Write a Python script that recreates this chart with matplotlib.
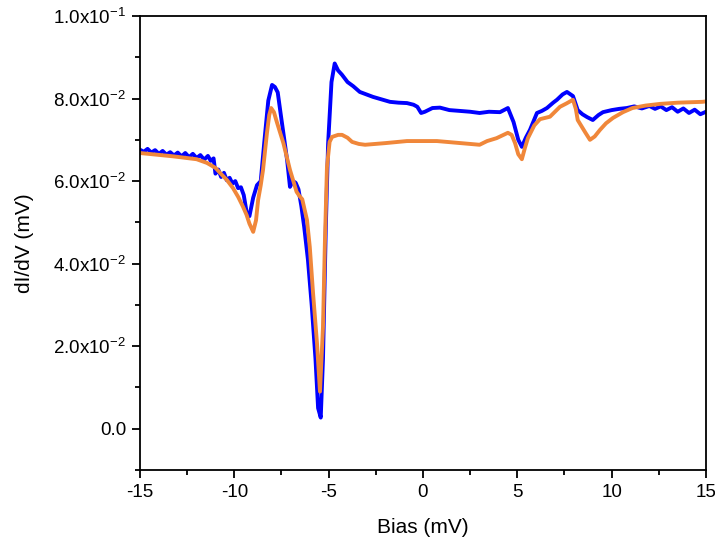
import matplotlib
matplotlib.use("Agg")
import matplotlib.pyplot as plt
from matplotlib.ticker import FixedLocator, MultipleLocator

plt.rcParams['font.family'] = ['Liberation Sans', 'DejaVu Sans']
plt.rcParams['mathtext.fontset'] = 'custom'
plt.rcParams['mathtext.rm'] = 'Liberation Sans'
plt.rcParams['mathtext.it'] = 'Liberation Sans'

# Measured (blue) dI/dV
bias_meas = [-15.0, -14.8, -14.6, -14.4, -14.2, -14.0, -13.8, -13.6, -13.4, -13.2,
             -13.0, -12.8, -12.6, -12.4, -12.2, -12.0, -11.8, -11.6, -11.4, -11.25,
             -11.1, -11.0, -10.85, -10.7, -10.55, -10.4, -10.25, -10.1, -9.95, -9.8,
             -9.65, -9.5, -9.35, -9.2, -9.0, -8.8, -8.6, -8.4, -8.2, -8.0,
             -7.85, -7.7, -7.55, -7.35, -7.2, -7.05, -6.9, -6.75, -6.6, -6.45,
             -6.3, -6.1, -5.9, -5.7, -5.56, -5.42, -5.3, -5.15, -5.03, -4.85,
             -4.68, -4.5, -4.3, -4.0, -3.7, -3.35, -3.0, -2.65, -2.2, -1.75,
             -1.3, -0.85, -0.5, -0.3, -0.1, 0.1, 0.5, 0.9, 1.4, 1.96,
             2.5, 3.0, 3.5, 4.08, 4.5, 4.8, 5.05, 5.24, 5.45, 5.67,
             6.04, 6.3, 6.57, 6.9, 7.1, 7.4, 7.63, 7.95, 8.2, 8.45,
             8.7, 9.0, 9.3, 9.54, 10.0, 10.4, 10.8, 11.2, 11.6, 12.0,
             12.3, 12.6, 12.9, 13.2, 13.5, 13.8, 14.1, 14.4, 14.7, 15.0]
didv_meas = [0.0676, 0.0671, 0.0678, 0.0669, 0.0675, 0.0666, 0.0673, 0.0664, 0.0670, 0.0662,
             0.0669, 0.0660, 0.0668, 0.0658, 0.0666, 0.0656, 0.0663, 0.0652, 0.0661, 0.0649,
             0.0655, 0.0618, 0.0628, 0.0610, 0.0620, 0.0602, 0.0608, 0.0594, 0.0600, 0.0583,
             0.0585, 0.0566, 0.0525, 0.0515, 0.0560, 0.0590, 0.0600, 0.0700, 0.0795, 0.0833,
             0.0828, 0.0815, 0.0765, 0.0700, 0.0650, 0.0586, 0.0600, 0.0596, 0.0580, 0.0540,
             0.0490, 0.0410, 0.0300, 0.0170, 0.0050, 0.0027, 0.0170, 0.0490, 0.0690, 0.0840,
             0.0885, 0.0868, 0.0858, 0.0840, 0.0830, 0.0816, 0.0810, 0.0804, 0.0798, 0.0792,
             0.0790, 0.0789, 0.0785, 0.0780, 0.0765, 0.0768, 0.0777, 0.0778, 0.0772, 0.0770,
             0.0768, 0.0765, 0.0768, 0.0767, 0.0777, 0.0743, 0.0700, 0.0683, 0.0705, 0.0724,
             0.0765, 0.0770, 0.0777, 0.0790, 0.0797, 0.0810, 0.0816, 0.0806, 0.0772, 0.0762,
             0.0755, 0.0748, 0.0760, 0.0767, 0.0772, 0.0775, 0.0777, 0.0781, 0.0776, 0.0782,
             0.0775, 0.0781, 0.0772, 0.0779, 0.0768, 0.0776, 0.0765, 0.0773, 0.0762, 0.0768]

# Fitted (orange) dI/dV
bias_fit = [-15.0, -13.25, -12.0, -11.45, -11.0, -10.76, -10.4, -10.07, -9.8, -9.54,
            -9.35, -9.2, -9.0, -8.85, -8.74, -8.6, -8.48, -8.27, -8.15, -8.05,
            -7.9, -7.74, -7.4, -7.05, -6.7, -6.55, -6.4, -6.15, -6.0, -5.83,
            -5.62, -5.46, -5.3, -5.2, -5.09, -4.95, -4.82, -4.5, -4.29, -4.0,
            -3.76, -3.4, -3.07, -2.0, -0.85, 0.74, 2.0, 3.0, 3.4, 3.9,
            4.5, 4.7, 4.88, 5.05, 5.24, 5.4, 5.56, 5.9, 6.2, 6.73,
            7.26, 7.6, 7.95, 8.1, 8.2, 8.4, 8.6, 8.85, 9.1, 9.38,
            9.7, 10.07, 10.6, 11.1, 11.8, 12.56, 13.5, 14.8, 15.0]
didv_fit = [0.0668, 0.0660, 0.0653, 0.0644, 0.0632, 0.0620, 0.0603, 0.0583, 0.0562, 0.0538,
            0.0518, 0.0497, 0.0477, 0.0505, 0.0554, 0.0590, 0.0627, 0.0717, 0.0760, 0.0777,
            0.0767, 0.0742, 0.0692, 0.0627, 0.0574, 0.0564, 0.0556, 0.0506, 0.0440, 0.0330,
            0.0208, 0.0090, 0.0247, 0.0450, 0.0634, 0.0695, 0.0707, 0.0712, 0.0712, 0.0705,
            0.0695, 0.0690, 0.0688, 0.0692, 0.0697, 0.0697, 0.0692, 0.0688, 0.0697, 0.0704,
            0.0717, 0.0712, 0.0692, 0.0665, 0.0653, 0.0680, 0.0704, 0.0735, 0.0750, 0.0756,
            0.0780, 0.0788, 0.0797, 0.0775, 0.0748, 0.0733, 0.0718, 0.0700, 0.0708, 0.0724,
            0.0740, 0.0753, 0.0767, 0.0777, 0.0783, 0.0787, 0.0790, 0.0792, 0.0793]

x_ticks = [-15, -10, -5, 0, 5, 10, 15]
x_ticklabels = ['-15', '-10', '-5', '0', '5', '10', '15']
y_ticks = [0.0, 0.02, 0.04, 0.06, 0.08, 0.10]
y_ticklabels = ['0.0', r'2.0x10$^{-2}$', r'4.0x10$^{-2}$', r'6.0x10$^{-2}$',
                r'8.0x10$^{-2}$', r'1.0x10$^{-1}$']

fig = plt.figure(figsize=(7.15, 5.46), dpi=100)
ax = fig.add_axes([0.1958, 0.1392, 0.7916, 0.8315])

ax.plot(bias_meas, didv_meas, color='#0000FF', lw=2.8, solid_joinstyle='round')
ax.plot(bias_fit, didv_fit, color='#F0873A', lw=2.8, solid_joinstyle='round')

ax.set_xlim(-15, 15)
ax.set_ylim(-0.01, 0.10)
ax.xaxis.set_major_locator(FixedLocator(x_ticks))
ax.set_xticklabels(x_ticklabels)
ax.xaxis.set_minor_locator(MultipleLocator(2.5))
ax.yaxis.set_major_locator(FixedLocator(y_ticks))
ax.set_yticklabels(y_ticklabels)
ax.yaxis.set_minor_locator(MultipleLocator(0.01))

ax.tick_params(which='major', direction='out', length=6, width=1.3, labelsize=13.5,
               top=False, right=False, pad=4)
ax.tick_params(which='minor', direction='out', length=3.5, width=1.3,
               top=False, right=False)
for s in ax.spines.values():
    s.set_linewidth(1.3)

ax.set_xlabel('Bias (mV)', fontsize=15, labelpad=12)
ax.set_ylabel('dI/dV (mV)', fontsize=15, labelpad=14)

fig.savefig('out.png', dpi=100)
